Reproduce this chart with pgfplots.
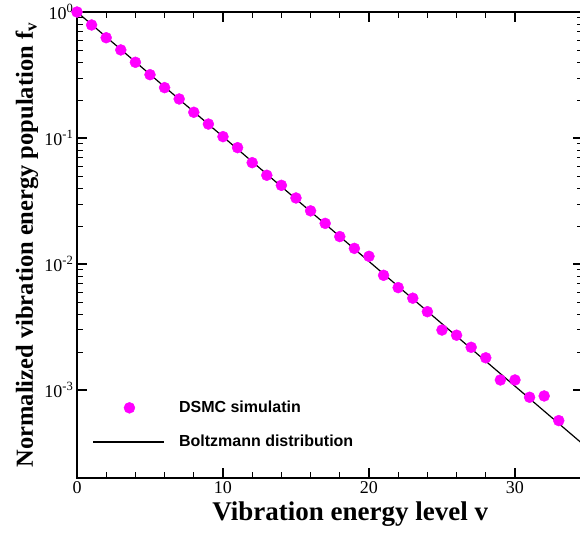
\documentclass[border=0pt]{standalone}
\usepackage{fontspec}
\setmainfont{Liberation Serif}
\newfontfamily\legfont{Liberation Sans}
\usepackage{pgfplots}
\pgfplotsset{compat=1.18}
\definecolor{mag}{RGB}{255,0,255}
\begin{document}
\begin{tikzpicture}
\begin{axis}[
  scale only axis, width=506pt, height=466pt,
  xmin=0, xmax=34.66, ymode=log, ymin=2e-4, ymax=1,
  xtick={0,10,20,30}, xticklabels={0,10,20,30},
  minor x tick num=4,
  ytick={1e-3,1e-2,1e-1,1},
  yticklabels={10\textsuperscript{-3},10\textsuperscript{-2},10\textsuperscript{-1},10\textsuperscript{0}},
  tick align=inside, major tick length=10pt, minor tick length=6pt,
  every major tick/.append style={line width=1.6pt, black},
  every minor tick/.append style={line width=0.7pt, black},
  axis line style={line width=1.6pt},
  tick label style={font=\fontsize{18}{21}\selectfont},
  xlabel={\textbf{Vibration energy level v}},
  ylabel={\textbf{Normalized vibration energy population f\textsubscript{v}}},
  every axis x label/.style={at={(axis description cs:0.54,-0.077)}, anchor=center, font=\fontsize{27}{31}\selectfont},
  every axis y label/.style={at={(axis description cs:-0.099,0.5)}, rotate=90, anchor=center, font=\fontsize{24.5}{28}\selectfont},
  legend cell align=left,
  legend style={draw=none, fill=none, font=\legfont\bfseries\fontsize{16}{19}\selectfont,
    at={(axis description cs:0.025,0.114)}, anchor=west, row sep=17pt},
  clip=true,
]
\addplot[only marks, mark=*, mark size=5.5pt, mark options={fill=mag, draw=mag},
  legend image code/.code={\path (0pt,0pt) (83pt,0pt); \fill[mag] (36pt,0pt) circle (5.5pt);}]
  table[row sep=\\] {
  x y \\
  0 1.0 \\
  1 0.789 \\
  2 0.625 \\
  3 0.500 \\
  4 0.399 \\
  5 0.318 \\
  6 0.251 \\
  7 0.204 \\
  8 0.160 \\
  9 0.129 \\
  10 0.1025 \\
  11 0.0838 \\
  12 0.0637 \\
  13 0.0506 \\
  14 0.0421 \\
  15 0.0334 \\
  16 0.0264 \\
  17 0.0210 \\
  18 0.0165 \\
  19 0.0133 \\
  20 0.0115 \\
  21 0.00813 \\
  22 0.00649 \\
  23 0.00535 \\
  24 0.00418 \\
  25 0.00299 \\
  26 0.00272 \\
  27 0.00218 \\
  28 0.00180 \\
  29 0.00120 \\
  30 0.00120 \\
  31 0.000875 \\
  32 0.000896 \\
  33 0.000571 \\
  };
\addlegendentry{DSMC simulatin}
\addplot[black, line width=1.2pt,
  legend image code/.code={\path (0pt,0pt) (83pt,0pt); \draw[black, line width=1.2pt] (0pt,0pt) -- (71pt,0pt);}]
  coordinates {(0,1.0) (35,0.000343)};
\addlegendentry{Boltzmann distribution}
\end{axis}
\pgfresetboundingbox
\path[use as bounding box] (-77pt,-55pt) rectangle (503pt,478pt);
\end{tikzpicture}
\end{document}
